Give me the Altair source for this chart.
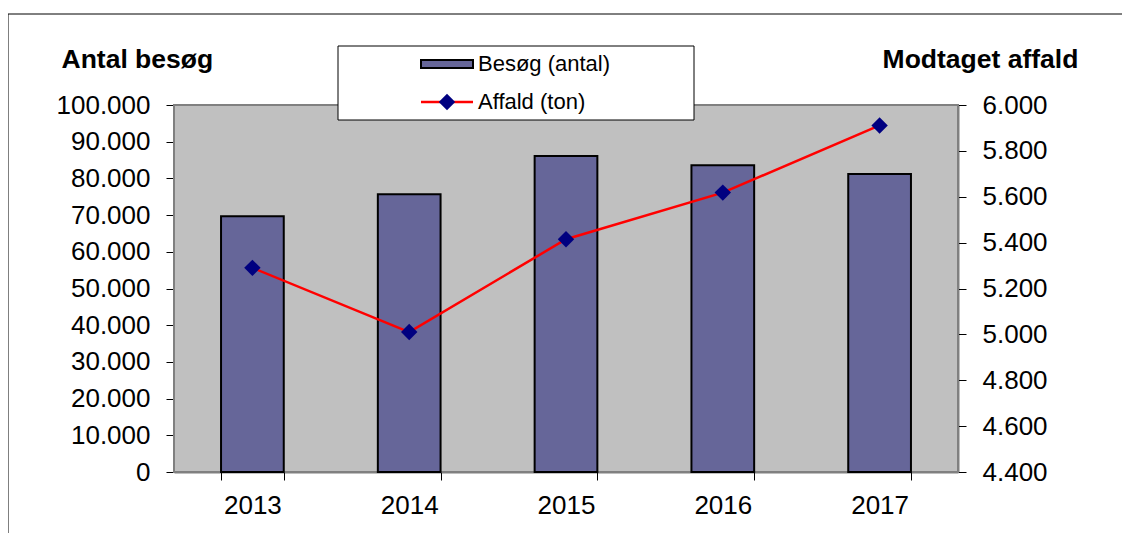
import altair as alt
import pandas as pd

# ---- data ----
years = ["2013", "2014", "2015", "2016", "2017"]
visits = [69700, 75700, 86100, 83600, 81200]
waste = [5290, 5010, 5415, 5618, 5911]
series_names = ["Besøg (antal)", "Affald (ton)"]
left_title = "Antal besøg"
right_title = "Modtaget affald"
left_ticks = list(range(0, 100001, 10000))
right_ticks = list(range(4400, 6001, 200))

df = pd.DataFrame({"year": years, "visits": visits, "waste": waste})
one = pd.DataFrame({"k": [0]})

FONT = "Liberation Sans"
W, H = 784, 367
LBL = 26
TTL = 26.5
DIAMOND = 270

x_enc = alt.X(
    "year:N",
    sort=years,
    scale=alt.Scale(paddingInner=0.6, paddingOuter=0.3),
    axis=alt.Axis(
        title=None, labelAngle=0, tickBand="extent", tickSize=8,
        labelPadding=12, labelFontSize=LBL, labelFont=FONT, labelColor="black",
        domainColor="black", tickColor="black", domainWidth=1.5, tickWidth=1, grid=False,
    ),
)

# plot-area background
bg = alt.Chart(one).mark_rect(fill="#C0C0C0", stroke="#808080", strokeWidth=2).encode(
    x=alt.value(0), x2=alt.value(W), y=alt.value(0), y2=alt.value(H)
)

bars = alt.Chart(df).mark_bar(fill="#666699", stroke="black", strokeWidth=2).encode(
    x=x_enc,
    y=alt.Y(
        "visits:Q",
        scale=alt.Scale(domain=[0, 100000], nice=False),
        axis=alt.Axis(
            title=left_title, titleAngle=0, titleX=-113, titleY=-38,
            titleAlign="left", titleBaseline="alphabetic",
            titleFontSize=TTL, titleFontWeight="bold", titleFont=FONT, titleColor="black",
            values=left_ticks, format=",d", tickSize=8, labelPadding=16,
            labelFontSize=LBL, labelFont=FONT, labelColor="black",
            domainColor="black", tickColor="black", domainWidth=1.5, grid=False,
        ),
    ),
)

line = alt.Chart(df).mark_line(
    color="red", strokeWidth=2.5,
    point=alt.OverlayMarkDef(shape="diamond", size=DIAMOND, filled=True, color="#000080", opacity=1),
).encode(
    x=x_enc,
    y=alt.Y(
        "waste:Q",
        scale=alt.Scale(domain=[4400, 6000], nice=False, zero=False),
        axis=alt.Axis(
            orient="right",
            title=right_title, titleAngle=0, titleX=22, titleY=-38,
            titleAlign="center", titleBaseline="alphabetic",
            titleFontSize=TTL, titleFontWeight="bold", titleFont=FONT, titleColor="black",
            values=right_ticks, format=",d", tickSize=8, labelPadding=16,
            labelFontSize=LBL, labelFont=FONT, labelColor="black",
            domainColor="black", tickColor="black", domainWidth=1.5, grid=False,
        ),
    ),
)

# ---- legend (decoration) ----
leg_box = alt.Chart(one).mark_rect(fill="white", stroke="black", strokeWidth=1).encode(
    x=alt.value(164), x2=alt.value(520), y=alt.value(-59), y2=alt.value(15)
)
leg_bar = alt.Chart(one).mark_rect(fill="#666699", stroke="black", strokeWidth=2).encode(
    x=alt.value(247), x2=alt.value(299), y=alt.value(-45), y2=alt.value(-37)
)
leg_line = alt.Chart(one).mark_rule(color="red", strokeWidth=2.5).encode(
    x=alt.value(247), x2=alt.value(299), y=alt.value(-3)
)
leg_pt = alt.Chart(one).mark_point(shape="diamond", size=DIAMOND, filled=True, color="#000080", opacity=1).encode(
    x=alt.value(273), y=alt.value(-3)
)
leg_t1 = alt.Chart(pd.DataFrame({"name": [series_names[0]]})).mark_text(
    align="left", baseline="middle", fontSize=22, font=FONT, color="black"
).encode(x=alt.value(304), y=alt.value(-41), text="name:N")
leg_t2 = alt.Chart(pd.DataFrame({"name": [series_names[1]]})).mark_text(
    align="left", baseline="middle", fontSize=22, font=FONT, color="black"
).encode(x=alt.value(304), y=alt.value(-3), text="name:N")

# ---- outer frame ----
frame_top = alt.Chart(one).mark_rule(color="black", strokeWidth=1).encode(
    x=alt.value(-166), x2=alt.value(1000), y=alt.value(-91)
)
frame_left = alt.Chart(one).mark_rule(color="black", strokeWidth=1).encode(
    x=alt.value(-166), y=alt.value(-91), y2=alt.value(500)
)

chart = (
    alt.layer(bg, bars, line, leg_box, leg_bar, leg_line, leg_pt, leg_t1, leg_t2, frame_top, frame_left)
    .resolve_scale(y="independent")
    .properties(
        width=W, height=H,
        autosize=alt.AutoSizeParams(type="none"),
        padding={"left": 166, "top": 97, "right": 164, "bottom": 61},
        background="white",
    )
    .configure_view(stroke=None)
    .configure(locale={"number": {"decimal": ",", "thousands": ".", "grouping": [3], "currency": ["", " kr."]}})
)

chart.save("out.html", embed_options={"renderer": "svg", "actions": False})
